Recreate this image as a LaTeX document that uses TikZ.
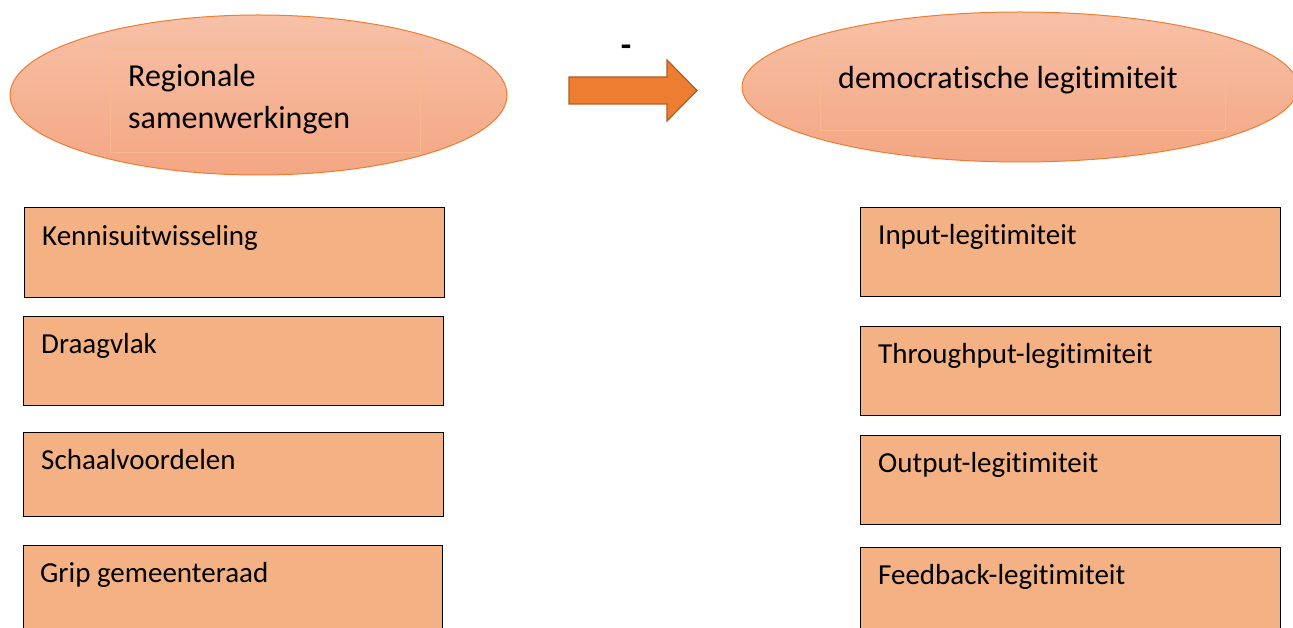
\documentclass[tikz,border=0pt]{standalone}
\usepackage{fontspec}
\setmainfont[Ligatures=NoCommon]{Carlito}
\usetikzlibrary{shapes.geometric}
\definecolor{ellfillA}{HTML}{F7C1A7}
\definecolor{ellfillB}{HTML}{F4A683}
\definecolor{ellline}{HTML}{ED7D31}
\definecolor{boxfill}{HTML}{F4B183}
\definecolor{arrfill}{HTML}{ED7D31}
\definecolor{arrline}{HTML}{B05C22}
\definecolor{innerline}{HTML}{F8B98F}
\tikzset{
  ell/.style={ellipse, draw=ellline, line width=1pt, top color=ellfillA, bottom color=ellfillB, inner sep=0pt},
  inner/.style={draw=innerline, line width=0.8pt, inner sep=0pt},
  itembox/.style={rectangle, draw=black, line width=1pt, fill=boxfill, minimum width=420pt, minimum height=90pt, inner sep=0pt},
  txt/.style={anchor=base west, font=\fontsize{29}{34}\selectfont, inner sep=0pt, text=black},
  elltxt/.style={txt, font=\fontsize{32}{38}\selectfont},
  bigarrow/.style={draw=arrline, fill=arrfill, line width=1.2pt, line join=miter},
}
\begin{document}
\begin{tikzpicture}[x=1pt,y=-1pt]
\useasboundingbox (0,0) rectangle (1293,628);
\clip (0,0) rectangle (1293,628);
% ellipses
\node[ell, minimum width=497pt, minimum height=160pt] (e1) at (258.5,95) {};
\node[inner, minimum width=310pt, minimum height=104pt] (r1) at (265,100) {};
\node[elltxt] (t1a) at (128,87) {Regionale};
\node[elltxt] (t1b) at (128,129) {samenwerkingen};
\node[ell, minimum width=556pt, minimum height=150pt] (e2) at (1020,87) {};
\node[inner, minimum width=405pt, minimum height=80pt] (r2) at (1022.5,90) {};
\node[elltxt] (t2) at (838,89) {democratische legitimiteit};
% arrow
\coordinate (ar) at (569,90.5);
\draw[bigarrow] (569,77) -- (667,77) -- (667,60) -- (697,90.5) -- (667,121) -- (667,104) -- (569,104) -- cycle;
\node[txt, anchor=center, font=\fontsize{34}{40}\selectfont\bfseries] (minus) at (626,51) {-};
% left boxes
\node[itembox, anchor=north west] (b1) at (24,207) {};
\node[txt] (bt1) at ([xshift=18pt,yshift=-39pt]b1.north west) {Kennisuitwisseling};
\node[itembox, anchor=north west, minimum height=89pt] (b2) at (23,316) {};
\node[txt] (bt2) at ([xshift=18pt,yshift=-37pt]b2.north west) {Draagvlak};
\node[itembox, anchor=north west, minimum height=84pt] (b3) at (23,432) {};
\node[txt] (bt3) at ([xshift=18pt,yshift=-37pt]b3.north west) {Schaalvoordelen};
\node[itembox, anchor=north west, minimum width=419pt] (b4) at (23,545) {};
\node[txt] (bt4) at ([xshift=17pt,yshift=-37pt]b4.north west) {Grip gemeenteraad};
% right boxes
\node[itembox, anchor=north west, minimum height=89pt] (c1) at (860,207) {};
\node[txt] (ct1) at ([xshift=18pt,yshift=-38pt]c1.north west) {Input-legitimiteit};
\node[itembox, anchor=north west, minimum height=89pt] (c2) at (860,326) {};
\node[txt] (ct2) at ([xshift=18pt,yshift=-37pt]c2.north west) {Throughput-legitimiteit};
\node[itembox, anchor=north west, minimum height=89pt] (c3) at (860,435) {};
\node[txt] (ct3) at ([xshift=18pt,yshift=-37pt]c3.north west) {Output-legitimiteit};
\node[itembox, anchor=north west] (c4) at (860,547) {};
\node[txt] (ct4) at ([xshift=18pt,yshift=-37pt]c4.north west) {Feedback-legitimiteit};
\end{tikzpicture}
\end{document}
